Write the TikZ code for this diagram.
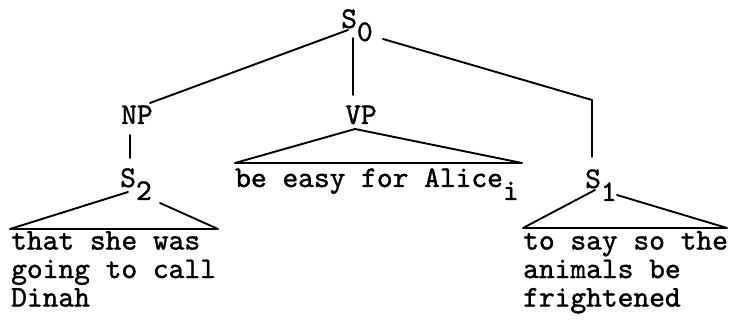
\documentclass[tikz,border=0pt]{standalone}
\usepackage{fontspec}
\newfontfamily\twface[FakeBold=1.3]{lmmono10-regular.otf}
\newcommand{\twfont}{\fontsize{30}{28.5}\selectfont\twface}
\newcommand{\lowsub}[1]{\raisebox{-13pt}{#1}}
\tikzset{
  lbl/.style={inner sep=0pt,anchor=base west,font=\twfont},
  txt/.style={lbl,anchor=north west,align=left},
  branch/.style={line width=1.9pt,line cap=round,line join=round}
}
\begin{document}
\begin{tikzpicture}[x=1pt,y=-1pt]
\useasboundingbox(0,0)rectangle(731,320);
\node[lbl](s0)at(341,28){S\lowsub{0}};
\node[lbl](np)at(121,124){NP};
\node[lbl](vp)at(345,124){VP};
\node[lbl](s2)at(120,187){S\lowsub{2}};
\node[lbl](s1)at(585,188){S\lowsub{1}};
\node[lbl](vptext)at(235,187){be easy for Alice\lowsub{i}};
\node[txt](s2text)at(11,231){that she was\\going to call\\Dinah};
\node[txt](s1text)at(523,231){to say so the\\animals be\\frightened};
\coordinate(bend)at(592,100);
\coordinate(vpl)at(235,163);
\coordinate(vpr)at(522,163);
\coordinate(s2l)at(10,229);
\coordinate(s2r)at(218,229);
\coordinate(s1l)at(523,228);
\coordinate(s1r)at(727,228);
\draw[branch]([shift={(7,2)}]s0.base west)--([shift={(29,-21)}]np.base west);
\draw[branch]([shift={(12,10)}]s0.base west)--([shift={(8,-29)}]vp.base west);
\draw[branch]([shift={(42,11)}]s0.base west)--(bend)--([shift={(7,-31)}]s1.base west);
\draw[branch]([shift={(9,11)}]np.base west)--([shift={(10,-29)}]s2.base west);
\draw[branch]([shift={(10,5)}]vp.base west)--(vpl)--(vpr)--cycle;
\draw[branch]([shift={(8,5)}]s2.base west)--(s2l)--(s2r)--([shift={(40,16)}]s2.base west);
\draw[branch]([shift={(10,2)}]s1.base west)--(s1l)--(s1r)--([shift={(32,7)}]s1.base west);
\end{tikzpicture}
\end{document}
